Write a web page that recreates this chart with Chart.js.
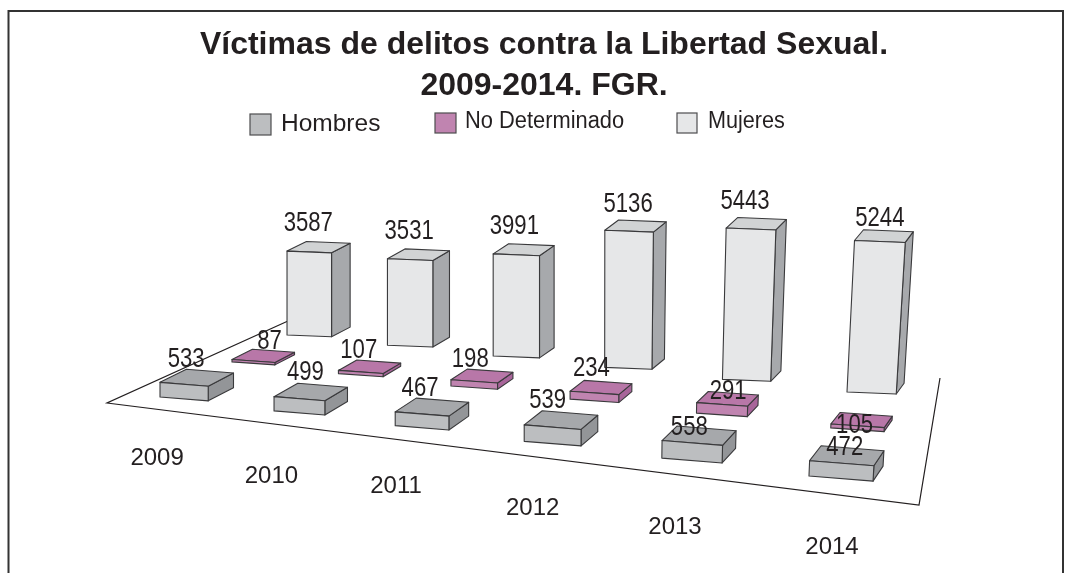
<!DOCTYPE html>
<html lang="es">
<head>
<meta charset="utf-8">
<style>html,body{margin:0;padding:0;background:#fff}canvas{display:block}</style>
<script src="https://cdn.jsdelivr.net/npm/chart.js@4/dist/chart.umd.js"></script>
</head>
<body>
<canvas id="c" width="1072" height="573"></canvas>
<script>
// ---- data ----
const years = ['2009','2010','2011','2012','2013','2014'];
const hombres = [533,499,467,539,558,472];
const noDeterminado = [87,107,198,234,291,105];
const mujeres = [3587,3531,3991,5136,5443,5244];

// ---- series styling ----
const seriesColors = [
  {front:'#bcbec0', top:'#a6a8ab', side:'#939598'},
  {front:'#c084b0', top:'#b877a8', side:'#a8659a'},
  {front:'#e6e7e8', top:'#d1d3d4', side:'#a7a9ac'}
];
// ---- 3D view: depth row, bar width, height factor etc per series ----
const view = [
  {row:0,    w0:.43, w1:-.003, k0:.0275, k1:.0010, depth:.023, frontSlope:.08},
  {row:.528, w0:.41, w1:-.006, k0:.0280, k1:.0020, depth:.019, frontSlope:.07},
  {row:1,    w0:.45, w1:-.014, k0:.0234, k1:.0011, depth:.019, frontSlope:.04}
];
const depthVP = {x:1308, y:-172};
const labelNudge = [
  {dx:[2,6,-2,-5,-3,3],    dy:[-25,-26,-25,-27,-15,-16]},
  {dx:[16,-2,-4,-3,6,-3],  dy:[-19.6,-21.8,-21.7,-24,-12.5,0]},
  {dx:[-1,-1,-2,-1,-6,0],  dy:[-28,-28,-28,-27,-27,-23]}
];
const yearNudge = {dx:[-27,-28,-26,-20,-17,-9], dy:[59,63,59,65,67,69]};

// ground homography: (category index, depth row) -> screen
const G = {g:-.1473, h:.1689, a:529.8, b:175.5, c:160, d:8.9, e:-5.4, f:397};
function ground(u, v){
  const s = u/5, w = 1 + G.g*s + G.h*v;
  return {x:(G.c + G.a*s + G.b*v)/w, y:(G.f + G.d*s + G.e*v)/w};
}
function toDepth(p, s){ return {x:p.x + s*(depthVP.x-p.x), y:p.y + s*(depthVP.y-p.y)}; }
function raise(p, px){ return {x:p.x + Math.max(0,p.x-600)*.0002*px, y:p.y - px}; }
function poly(ctx, pts, fill){
  ctx.beginPath();
  pts.forEach((p,i)=> i?ctx.lineTo(p.x,p.y):ctx.moveTo(p.x,p.y));
  ctx.closePath();
  ctx.fillStyle = fill; ctx.fill(); ctx.stroke();
}
function boxFor(chart, el, si){
  const cfg = view[si];
  const u = chart.scales.x.getValueForPixel(el.x);
  const val = chart.scales.y.getValueForPixel(el.y);
  const fl = ground(u, cfg.row);
  const frAny = ground(u + cfg.w0 + cfg.w1*u, cfg.row);
  const dx = frAny.x - fl.x;
  const fr = {x:fl.x + dx, y:fl.y + dx*cfg.frontSlope};
  const px = val*(cfg.k0 + cfg.k1*u);
  return {u, fl, fr, px, cfg};
}

const scene = {
  id:'scene',
  beforeDatasetsDraw(chart){
    const ctx = chart.ctx;
    ctx.save();
    // page frame
    ctx.strokeStyle='#333'; ctx.lineWidth=2;
    ctx.beginPath(); ctx.moveTo(8.5,573); ctx.lineTo(8.5,11); ctx.lineTo(1063,11); ctx.lineTo(1063,573); ctx.stroke();
    // floor
    ctx.strokeStyle='#231f20'; ctx.lineWidth=1.2;
    ctx.beginPath(); ctx.moveTo(288,321); ctx.lineTo(107,403); ctx.lineTo(919,505); ctx.lineTo(940,378); ctx.stroke();
    // legend
    const boxes=[[250,114,21,21,281,124,24.5,1],[435,113,21,20,465,122,23,.95],[677,113,20,20,708,122,23,.94]];
    chart.data.datasets.forEach((ds,i)=>{
      const b=boxes[i];
      ctx.strokeStyle='#4d4d4f'; ctx.lineWidth=1.2; ctx.fillStyle=ds.backgroundColor;
      ctx.fillRect(b[0],b[1],b[2],b[3]); ctx.strokeRect(b[0],b[1],b[2],b[3]);
      ctx.save();
      ctx.translate(b[4],b[5]); ctx.scale(b[7],1);
      ctx.fillStyle='#231f20'; ctx.font=b[6]+'px "Liberation Sans"'; ctx.textBaseline='middle'; ctx.textAlign='left';
      ctx.fillText(ds.label,0,0);
      ctx.restore();
    });
    ctx.restore();
  },
  beforeDatasetDraw(chart,args){
    const ctx = chart.ctx, si = args.index, col = seriesColors[si];
    ctx.save();
    ctx.strokeStyle='#3a3a3c'; ctx.lineWidth=1.1; ctx.lineJoin='round';
    args.meta.data.forEach(el=>{
      const {fl,fr,px,cfg} = boxFor(chart,el,si);
      const bl = toDepth(fl,cfg.depth), br = toDepth(fr,cfg.depth);
      const tfl=raise(fl,px), tfr=raise(fr,px), tbl=raise(bl,px), tbr=raise(br,px);
      poly(ctx,[fr,br,tbr,tfr],col.side);
      poly(ctx,[tfl,tfr,tbr,tbl],col.top);
      poly(ctx,[fl,fr,tfr,tfl],col.front);
    });
    ctx.restore();
    return false;
  },
  afterDatasetsDraw(chart){
    const ctx = chart.ctx;
    ctx.save();
    ctx.fillStyle='#231f20'; ctx.textAlign='center'; ctx.textBaseline='middle';
    chart.data.datasets.forEach((ds,si)=>{
      chart.getDatasetMeta(si).data.forEach((el,i)=>{
        const {fl,fr,px} = boxFor(chart,el,si);
        const t = raise({x:(fl.x+fr.x)/2,y:(fl.y+fr.y)/2},px);
        ctx.save();
        ctx.translate(t.x+labelNudge[si].dx[i], t.y+labelNudge[si].dy[i]);
        ctx.scale(.82,1);
        ctx.font='27px "Liberation Sans"';
        ctx.fillText(String(ds.data[i]),0,0);
        ctx.restore();
      });
    });
    // category labels along the front edge
    const meta = chart.getDatasetMeta(0);
    ctx.font='24px "Liberation Sans"';
    meta.data.forEach((el,i)=>{
      const {fl,fr} = boxFor(chart,el,0);
      ctx.fillText(chart.data.labels[i],(fl.x+fr.x)/2+yearNudge.dx[i],(fl.y+fr.y)/2+yearNudge.dy[i]);
    });
    ctx.restore();
  }
};

new Chart(document.getElementById('c'),{
  type:'bar',
  data:{
    labels:years,
    datasets:[
      {label:'Hombres', data:hombres, backgroundColor:seriesColors[0].front},
      {label:'No Determinado', data:noDeterminado, backgroundColor:seriesColors[1].front},
      {label:'Mujeres', data:mujeres, backgroundColor:seriesColors[2].front}
    ]
  },
  options:{
    responsive:false, animation:false,
    layout:{padding:{left:16,top:10}},
    datasets:{bar:{grouped:false}},
    scales:{x:{display:false},y:{display:false,min:0,max:6000}},
    plugins:{
      legend:{display:false},
      tooltip:{enabled:false},
      title:{display:true,text:['Víctimas de delitos contra la Libertad Sexual.','2009-2014. FGR.'],
        color:'#231f20',font:{family:'"Liberation Sans"',size:32,weight:'bold',lineHeight:1.28},padding:{top:15,bottom:0}}
    }
  },
  plugins:[scene]
});
</script>
</body>
</html>
